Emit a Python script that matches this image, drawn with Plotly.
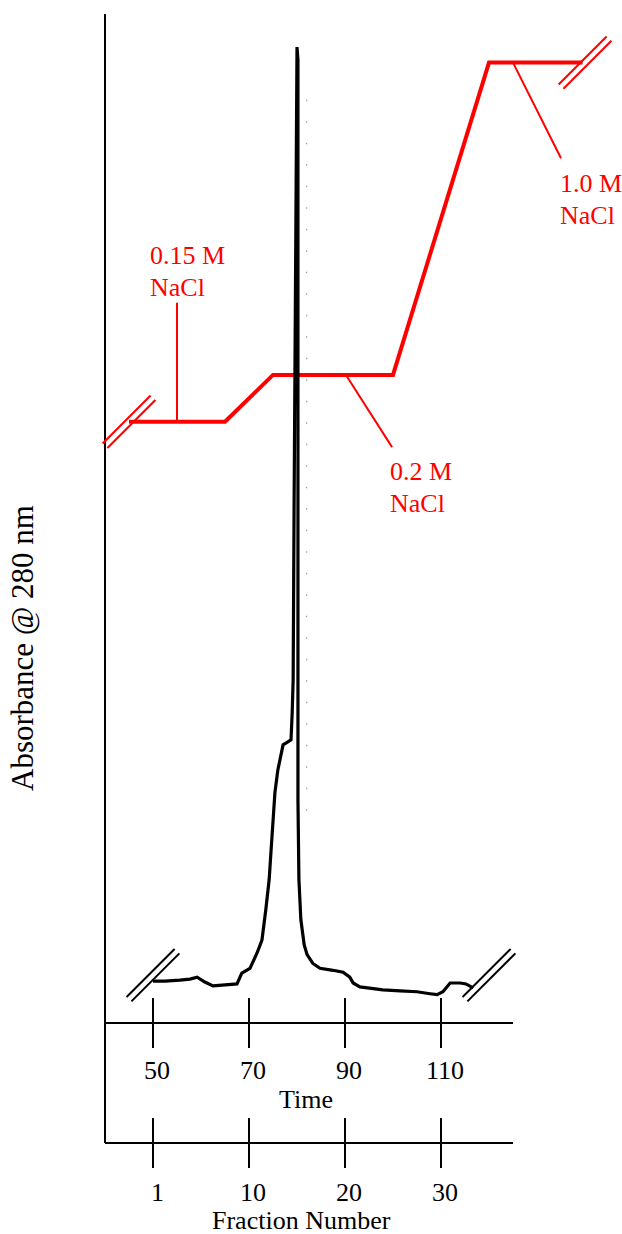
import plotly.graph_objects as go

# ---------------- data ----------------
# Chromatogram: elution time (min) vs. absorbance at 280 nm (relative units)
time_min = [50.0, 52.5, 55.6, 57.7, 59.2, 60.8, 62.5, 65.0, 67.5, 68.5, 70.2, 71.7,
            72.7, 73.5, 74.2, 74.6, 75.0, 75.4, 76.0, 77.1, 78.1, 78.75, 79.0, 79.2,
            79.4, 79.6, 79.8, 80.0, 80.2, 80.2, 80.2, 80.2, 80.4, 80.8, 81.5, 82.1,
            83.3, 84.8, 87.5, 89.6, 91.0, 91.7, 93.1, 97.9, 101.5, 105.0, 107.7,
            109.2, 110.4, 111.9, 114.0, 115.2, 116.7]
absorbance = [0.043, 0.043, 0.044, 0.045, 0.047, 0.042, 0.038, 0.039, 0.040, 0.051,
              0.056, 0.072, 0.085, 0.116, 0.147, 0.177, 0.208, 0.236, 0.259, 0.285,
              0.288, 0.290, 0.318, 0.352, 0.536, 0.741, 0.946, 1.000, 0.987, 0.741,
              0.433, 0.228, 0.147, 0.106, 0.080, 0.070, 0.061, 0.056, 0.054, 0.052,
              0.047, 0.041, 0.037, 0.034, 0.033, 0.032, 0.030, 0.029, 0.032, 0.041,
              0.041, 0.040, 0.036]

# faint scanner artefact dotted trace next to the peak
artifact_time = [82.0, 82.0]
artifact_level = [0.946, 0.198]

# NaCl step gradient (schematic level on the same vertical scale)
grad_time = [45, 65, 75, 100, 120, 139.5]
grad_level = [0.616, 0.616, 0.664, 0.664, 0.984, 0.984]
grad_labels = [("0.15 M", "NaCl"), ("0.2 M", "NaCl"), ("1.0 M", "NaCl")]

# axes ticks
time_ticks = [50, 70, 90, 110]
time_tick_labels = ["50", "70", "90", "110"]
fraction_tick_labels = ["1", "10", "20", "30"]

# ---------------- scale (pixels per unit) ----------------
W, H = 622, 1234
PX_T = 4.8      # px per minute
PX_A = 976.0    # px per absorbance unit
X0_PX, T0 = 153, 50      # pixel where time 50 sits
Y0_PX = 1023             # pixel where absorbance 0 sits
x_range = [T0 - X0_PX / PX_T, T0 + (W - X0_PX) / PX_T]
y_range = [-(H - Y0_PX) / PX_A, Y0_PX / PX_A]

RED = "#ff0000"
BLACK = "#000000"
FONT = "Liberation Serif"

fig = go.Figure()

fig.add_trace(go.Scatter(x=artifact_time, y=artifact_level, mode="lines",
                         line=dict(color="#a0a0a0", width=1.3, dash="1.5px,20px"),
                         hoverinfo="skip"))
fig.add_trace(go.Scatter(x=grad_time, y=grad_level, mode="lines",
                         line=dict(color=RED, width=4), hoverinfo="skip"))
fig.add_trace(go.Scatter(x=time_min, y=absorbance, mode="lines",
                         line=dict(color=BLACK, width=3.2), hoverinfo="skip"))

shapes = []


def line(x0, y0, x1, y1, color=BLACK, width=2):
    shapes.append(dict(type="line", xref="x", yref="y", x0=x0, y0=y0, x1=x1, y1=y1,
                       line=dict(color=color, width=width)))


def slash(tc, ac, color):
    # two parallel 45 degree strokes centred on (tc, ac)
    for s in (-1, 1):
        ox, oy = s * 2.4, s * 2.2
        line(tc + (ox - 24) / PX_T, ac - (oy + 24) / PX_A,
             tc + (ox + 24) / PX_T, ac - (oy - 24) / PX_A, color, 2)


axis_left_t = 40
axis_right_t = 125
frac_axis_a = -120 / PX_A
tick_half = 25 / PX_A

# vertical axis
line(axis_left_t, frac_axis_a, axis_left_t, (Y0_PX - 14) / PX_A)
# time axis and fraction axis
line(axis_left_t, 0, axis_right_t, 0)
line(axis_left_t, frac_axis_a, axis_right_t, frac_axis_a)
for t in time_ticks:
    line(t, tick_half, t, -tick_half)
    line(t, frac_axis_a + tick_half, t, frac_axis_a - tick_half)

# break marks
slash(time_min[0], 0.049, BLACK)
slash(120, 0.049, BLACK)
slash(grad_time[0], grad_level[0], RED)
slash(140, grad_level[-1], RED)

# label leader lines
line(55, grad_level[0], 55, 0.738, RED, 2)
line(90.2, grad_level[2], 99.8, 0.590, RED, 2)
line(125, grad_level[4], 135, 0.886, RED, 2)

annotations = []


def text(x, y, s, size=26, color=BLACK, xanchor="center", xshift=0, angle=0):
    annotations.append(dict(x=x, y=y, xref="x", yref="y", text=s, showarrow=False,
                            xanchor=xanchor, yanchor="middle", xshift=xshift,
                            textangle=angle,
                            font=dict(family=FONT, size=size, color=color)))


for t, lab in zip(time_ticks, time_tick_labels):
    text(t, -0.049, lab, xshift=4)
for t, lab in zip(time_ticks, fraction_tick_labels):
    text(t, -0.174, lab, xshift=4)
text(81.9, -0.078, "Time")
text(81.0, -0.202, "Fraction Number")

label_pos = [(48.96, 0.786), (98.96, 0.565), (134.4, 0.860)]
for (lx, ly), (l1, l2) in zip(label_pos, grad_labels):
    text(lx, ly, l1, color=RED, xanchor="left")
    text(lx, ly - 32 / PX_A, l2, color=RED, xanchor="left")

annotations.append(dict(x=23 / W, y=1 - 648 / H, xref="paper", yref="paper",
                        text="Absorbance @ 280 nm", showarrow=False, textangle=-90,
                        xanchor="center", yanchor="middle",
                        font=dict(family=FONT, size=31, color=BLACK)))

fig.update_layout(
    width=W, height=H,
    margin=dict(l=0, r=0, t=0, b=0),
    paper_bgcolor="white", plot_bgcolor="white",
    showlegend=False,
    xaxis=dict(range=x_range, visible=False, fixedrange=True),
    yaxis=dict(range=y_range, visible=False, fixedrange=True),
    shapes=shapes,
    annotations=annotations,
)

fig.write_html("out.html", config={"displayModeBar": False})
